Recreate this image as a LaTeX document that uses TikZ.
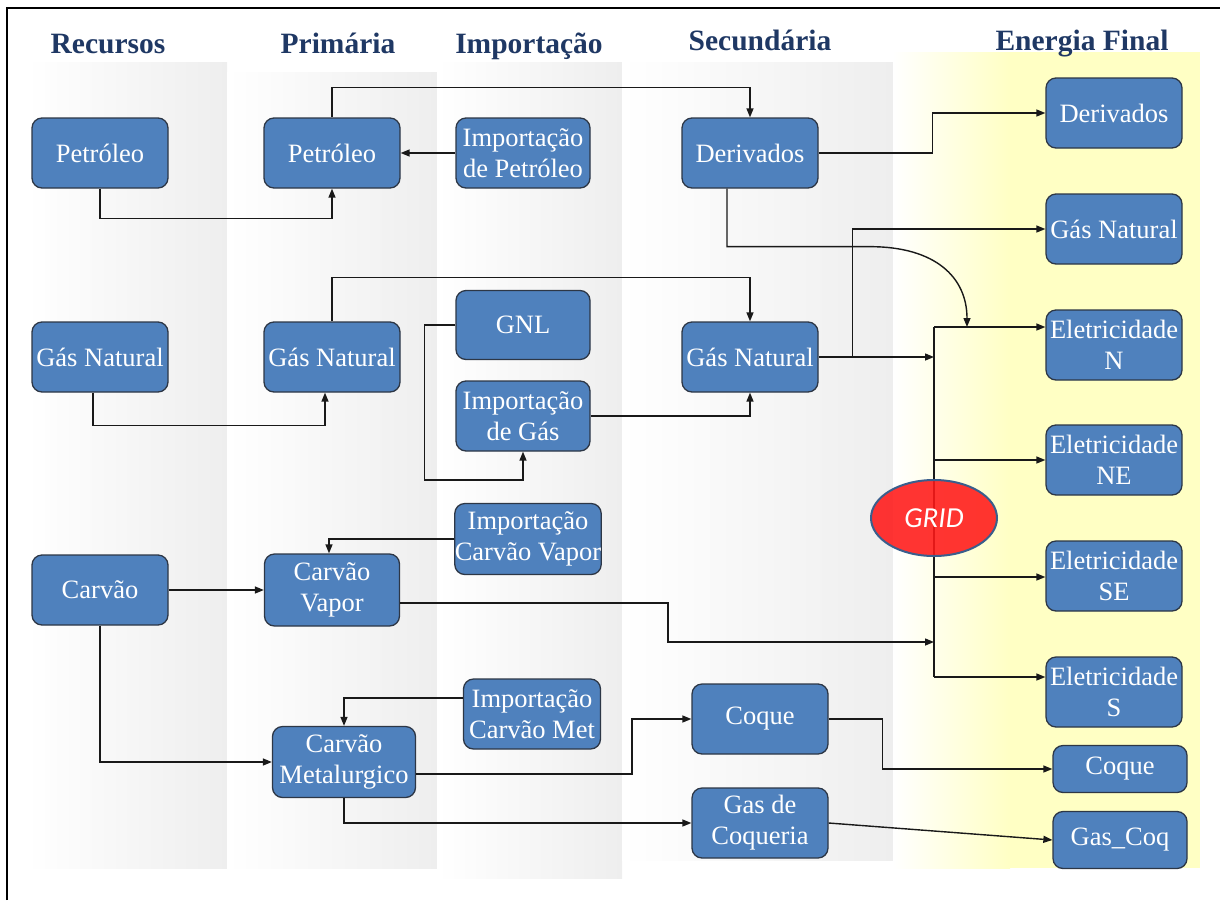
\documentclass[tikz,border=0pt]{standalone}
\usepackage{fontspec}
\setmainfont{Liberation Serif}
\newfontfamily\gridfont{Carlito}
\usetikzlibrary{arrows.meta,shapes.geometric}
\definecolor{boxblue}{RGB}{79,129,189}
\definecolor{boxedge}{RGB}{45,55,70}
\definecolor{hdr}{RGB}{31,56,100}
\definecolor{bandgray}{RGB}{238,238,238}
\definecolor{bandyel}{RGB}{255,255,196}
\definecolor{gridred}{RGB}{255,24,24}
\definecolor{gridedge}{RGB}{58,94,140}
\begin{document}
\begin{tikzpicture}[x=1pt,y=-1pt,
  box/.style={draw=boxedge, line width=1.3pt, fill=boxblue, rounded corners=10pt,
    text=white, align=center, inner sep=0pt, minimum width=136pt, minimum height=70pt,
    font=\fontsize{26.5}{31}\selectfont},
  hdrtxt/.style={anchor=base, text=hdr, inner sep=0pt,
    font=\fontsize{29.5}{34}\selectfont\bfseries},
  wire/.style={draw=black!90, line width=1.4pt},
  arr/.style={wire, -{Triangle[length=9pt,width=7pt]}}]
\useasboundingbox (0,0) rectangle (1220,900);
% background bands
\shade[left color=white, right color=bandgray] (27,62) rectangle (227,868);
\shade[left color=white, right color=bandgray] (227,72) rectangle (437,868);
\shade[left color=white, right color=bandgray] (437,62) rectangle (622,878);
\shade[left color=white, right color=bandgray] (622,62) rectangle (893,860);
\shade[left color=white, right color=bandyel] (893,52) rectangle (1010,868);
\fill[bandyel] (1009.5,52) rectangle (1200,868);
% frame
\draw[line width=1.5pt] (7,900) -- (7,8) -- (1220,8);
% headers
\node[hdrtxt] (hrec) at (108,53) {Recursos};
\node[hdrtxt] (hpri) at (338,53) {Primária};
\node[hdrtxt] (himp) at (529,53) {Importação};
\node[hdrtxt] (hsec) at (760,50) {Secundária};
\node[hdrtxt] (hfin) at (1082,50) {Energia Final};
% grid coordinates
\coordinate (gtop) at (934,327);
\coordinate (gbot) at (934,677);
\coordinate (gsgn) at (934,357);
\coordinate (gvap) at (934,642);
\coordinate (gne) at (934,460);
\coordinate (gse) at (934,577);
\coordinate (gcurve) at (967,327);
\draw[wire] (gtop) -- (gbot);
\node[ellipse, draw=gridedge, line width=2pt, fill=gridred, fill opacity=0.88, text opacity=1,
  minimum width=126pt, minimum height=76pt, inner sep=0pt, text=white,
  font=\gridfont\itshape\fontsize{29}{30}\selectfont] (grid) at (934,518) {GRID};
% boxes
\node[box] (rpet) at (100,153) {Petróleo};
\node[box] (ppet) at (332,153) {Petróleo};
\node[box, minimum width=134pt] (ipet) at (523,153) {Importação\\de Petróleo};
\node[box] (sder) at (750,153) {Derivados};
\node[box] (fder) at (1114,113) {Derivados};
\node[box] (fgn) at (1114,229) {Gás Natural};
\node[box] (rgn) at (100,357) {Gás Natural};
\node[box] (pgn) at (332,357) {Gás Natural};
\node[box, minimum width=134pt, minimum height=69pt] (gnl) at (523,325) {GNL};
\node[box, minimum width=134pt] (igas) at (523,416) {Importação\\de Gás};
\node[box] (sgn) at (750,357) {Gás Natural};
\node[box] (en) at (1114,345) {Eletricidade\\N};
\node[box] (ene) at (1114,460) {Eletricidade\\NE};
\node[box] (ese) at (1114,576) {Eletricidade\\SE};
\node[box] (es) at (1114,692) {Eletricidade\\S};
\node[box, minimum width=134pt, minimum height=47pt] (fcoq) at (1120,769) {Coque};
\node[box, minimum width=134pt, minimum height=57pt] (fgcq) at (1120,840) {Gas\_Coq};
\node[box] (rcar) at (100,590) {Carvão};
\node[box, minimum width=135pt, minimum height=72pt] (cvap) at (332,590) {Carvão\\Vapor};
\node[box, minimum width=146pt, minimum height=71pt] (icv) at (528,539) {Importação\\Carvão Vapor};
\node[box, minimum width=137pt] (icm) at (532,714) {Importação\\Carvão Met};
\node[box, minimum width=143pt, minimum height=71pt] (cmet) at (344,762) {Carvão\\Metalurgico};
\node[box] (scoq) at (760,719) {Coque};
\node[box] (gcq) at (760,823) {Gas de\\Coqueria};
% connectors
\draw[arr] (rpet.south) -- ++(0,30) -| (ppet.south);
\draw[arr] (ipet.west) -- (ppet.east);
\draw[arr] (ppet.north) -- ++(0,-30) -| (sder.north);
\draw[arr] (sder.east) -- ++(114,0) |- (fder.west);
\draw[arr] ([xshift=-23pt]sder.south) -- ++(0,58) -- ++(143,0) .. controls +(65,0) and +(0,-50) .. (gcurve);
\draw[arr] (sgn.east) -- (gsgn);
\draw[arr] ([xshift=34pt]sgn.east) |- (fgn.west);
\draw[arr] (gtop) -- (gtop -| en.west);
\draw[arr] (gne) -- (gne -| ene.west);
\draw[arr] (gse) -- (gse -| ese.west);
\draw[arr] (gbot) -- (gbot -| es.west);
\draw[arr] ([yshift=-13pt]cvap.east) -- ++(268,0) |- (gvap);
\draw[arr] (rcar.east) -- (cvap.west);
\draw[arr] (icv.west) -| ([xshift=-3pt]cvap.north);
\draw[arr] (rcar.south) |- (cmet.west);
\draw[arr] ([yshift=16pt]icm.west) -| (cmet.north);
\draw[arr] ([yshift=-12pt]cmet.east) -- ++(216,0) |- (scoq.west);
\draw[arr] (cmet.south) |- (gcq.west);
\draw[arr] (scoq.east) -- ++(54,0) |- (fcoq.west);
\draw[arr] (gcq.east) -- (fgcq.west);
\draw[arr] ([xshift=-7pt]rgn.south) -- ++(0,33) -| ([xshift=-7pt]pgn.south);
\draw[arr] (pgn.north) -- ++(0,-44) -| (sgn.north);
\draw[arr] (gnl.west) -- ++(-31,0) -- ++(0,155) -| (igas.south);
\draw[arr] (igas.east) -| (sgn.south);
\end{tikzpicture}
\end{document}
